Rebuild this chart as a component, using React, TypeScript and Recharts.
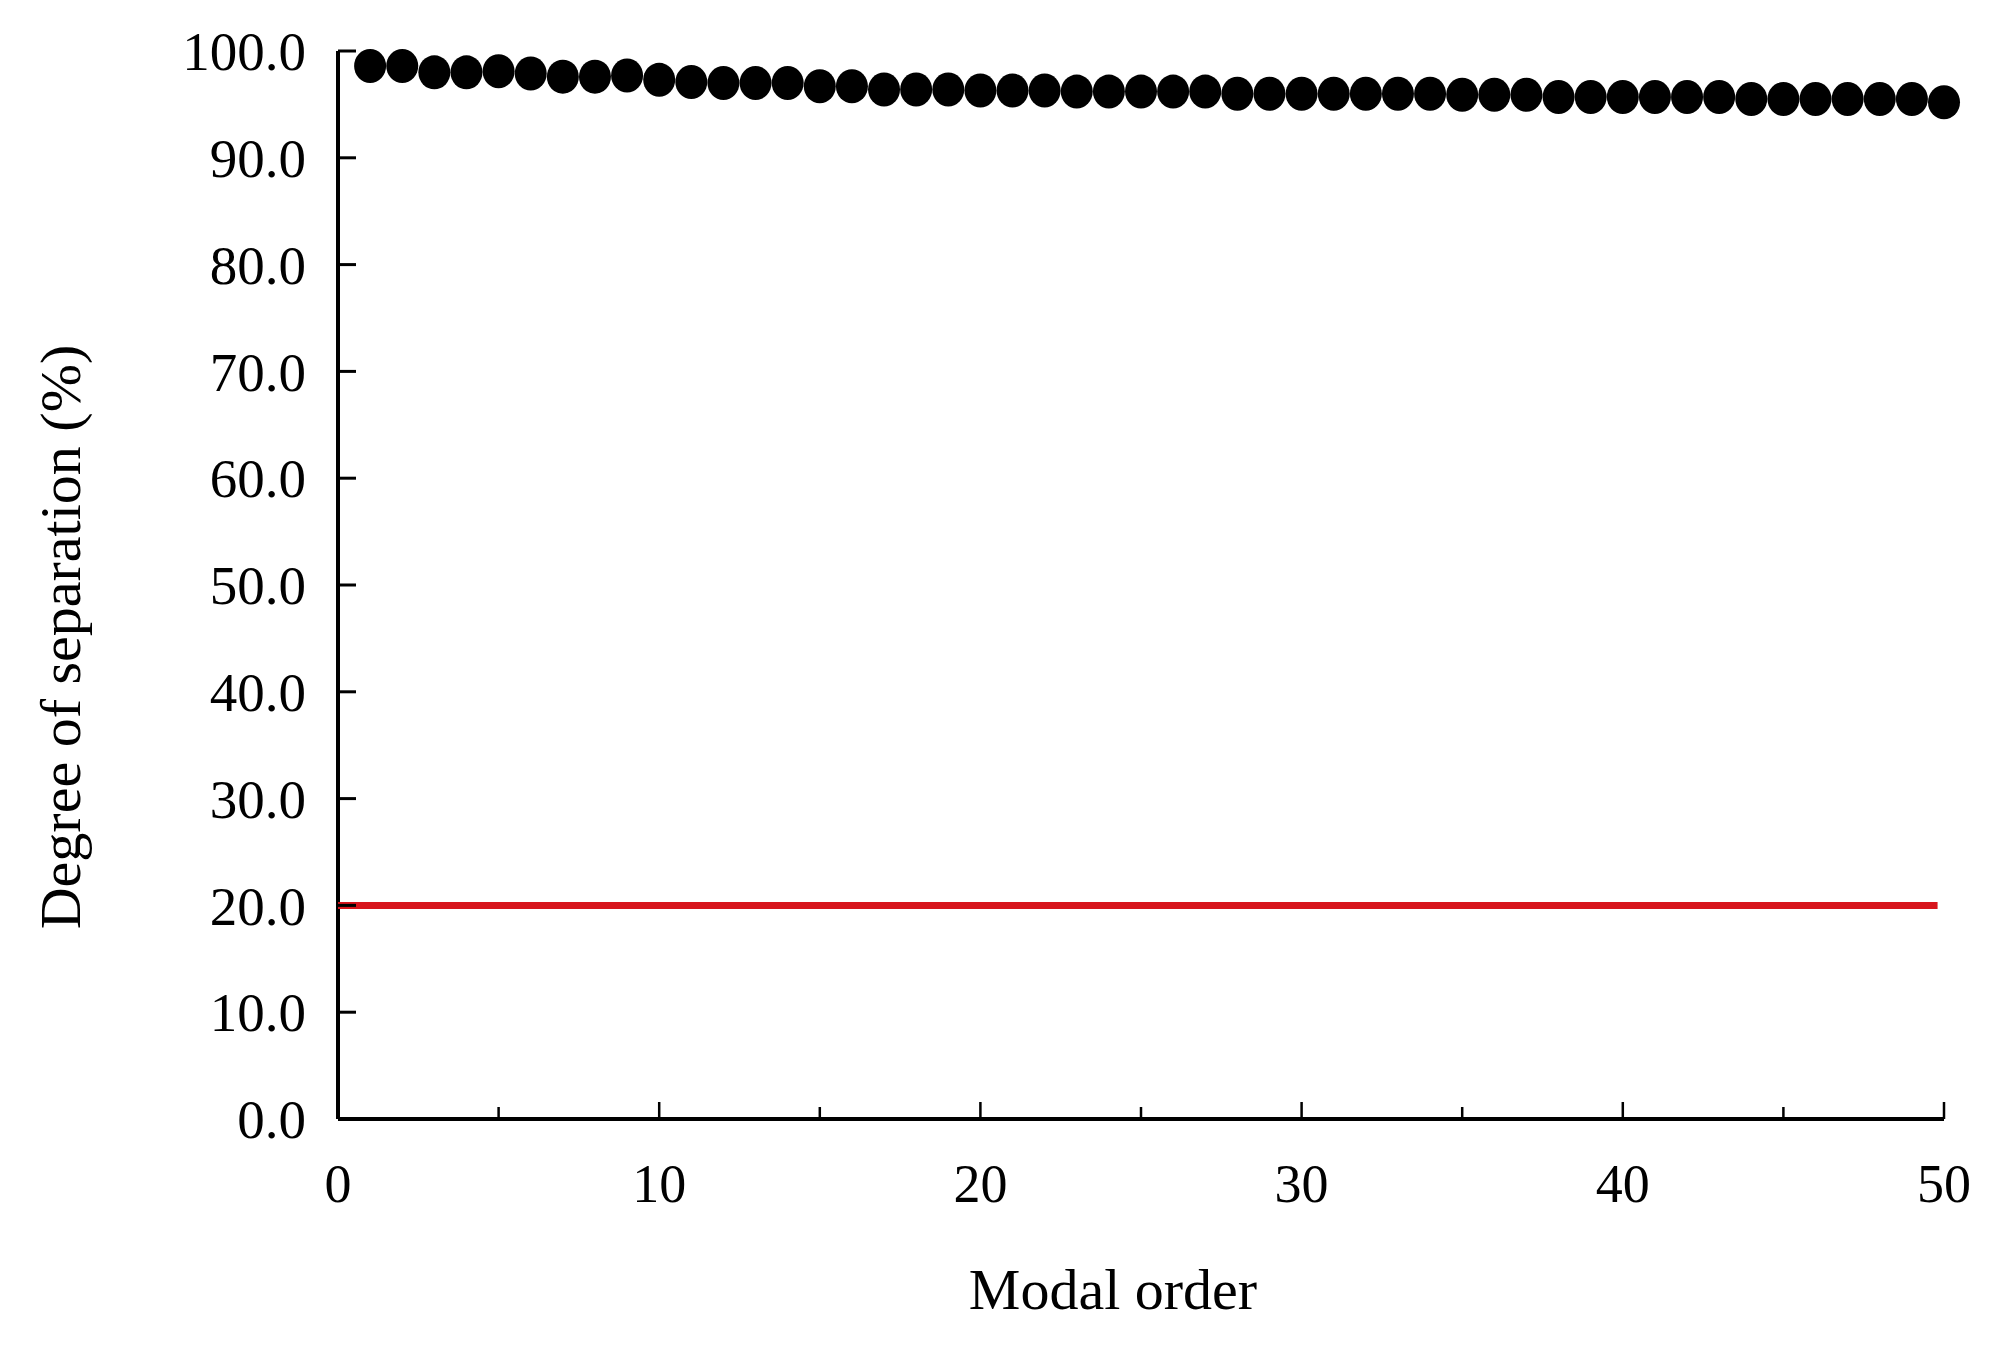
import { ScatterChart, Scatter, XAxis, YAxis } from 'recharts'

const modalOrder = [
  1, 2, 3, 4, 5, 6, 7, 8, 9, 10,
  11, 12, 13, 14, 15, 16, 17, 18, 19, 20,
  21, 22, 23, 24, 25, 26, 27, 28, 29, 30,
  31, 32, 33, 34, 35, 36, 37, 38, 39, 40,
  41, 42, 43, 44, 45, 46, 47, 48, 49, 50
]

const separation = [
  98.6, 98.6, 98.0, 98.0, 98.1, 97.9, 97.6, 97.6, 97.7, 97.3,
  97.1, 97.0, 97.0, 97.0, 96.7, 96.7, 96.4, 96.4, 96.4, 96.3,
  96.3, 96.3, 96.2, 96.2, 96.2, 96.2, 96.2, 96.0, 96.0, 96.0,
  96.0, 96.0, 96.0, 96.0, 95.9, 95.9, 95.9, 95.7, 95.7, 95.7,
  95.7, 95.7, 95.7, 95.5, 95.5, 95.5, 95.5, 95.5, 95.5, 95.2
]

const thresholdX = [0, 49.8]
const thresholdY = [20, 20]

const xTicks = [0, 5, 10, 15, 20, 25, 30, 35, 40, 45, 50]
const yTicks = [0, 10, 20, 30, 40, 50, 60, 70, 80, 90, 100]

const points = modalOrder.map((m, i) => ({ x: m, y: separation[i] }))
const threshold = thresholdX.map((x, i) => ({ x, y: thresholdY[i] }))

const FONT = '"Liberation Serif", "Times New Roman", serif'

const XTick = (props: any) => {
  const { x, y, payload } = props
  const major = payload.value % 10 === 0
  return (
    <g>
      <line x1={x} x2={x} y1={y} y2={y - (major ? 17 : 12)} stroke='#000' strokeWidth={2.5} />
      {major && (
        <text x={x} y={y + 83} textAnchor='middle' fontFamily={FONT} fontSize={54} fill='#000'>
          {payload.value}
        </text>
      )}
    </g>
  )
}

const YTick = (props: any) => {
  const { x, y, payload } = props
  return (
    <g>
      <line x1={x} x2={x + 18} y1={y} y2={y} stroke='#000' strokeWidth={3} />
      <text x={x - 32} y={y} dy='0.35em' textAnchor='end' fontFamily={FONT} fontSize={55} fill='#000'>
        {payload.value.toFixed(1)}
      </text>
    </g>
  )
}

const Dot = (props: any) => <ellipse cx={props.cx} cy={props.cy} rx={16} ry={17} fill='#000' />

export default function App() {
  return (
    <div style={{ position: 'absolute', left: 0, top: 0, background: '#fff' }}>
      <ScatterChart width={1999} height={1345} margin={{ top: 51, right: 55, left: 0, bottom: 0 }}>
        <XAxis
          type='number'
          dataKey='x'
          domain={[0, 50]}
          ticks={xTicks}
          interval={0}
          height={226}
          tickSize={0}
          tickMargin={0}
          tickLine={false}
          axisLine={{ stroke: '#000', strokeWidth: 4 }}
          tick={<XTick />}
          label={{
            content: ({ viewBox }: any) => (
              <text x={viewBox.x + viewBox.width / 2 - 28} y={viewBox.y + 190} textAnchor='middle' fontFamily={FONT} fontSize={58} fill='#000'>
                Modal order
              </text>
            )
          }}
        />
        <YAxis
          type='number'
          dataKey='y'
          domain={[0, 100]}
          ticks={yTicks}
          interval={0}
          width={338}
          tickSize={0}
          tickMargin={0}
          tickLine={false}
          axisLine={{ stroke: '#000', strokeWidth: 4 }}
          tick={<YTick />}
          label={{
            content: ({ viewBox }: any) => {
              const cx = 80
              const cy = viewBox.y + viewBox.height / 2 + 52
              return (
                <text x={cx} y={cy} transform={`rotate(-90 ${cx} ${cy})`} textAnchor='middle' fontFamily={FONT} fontSize={58} fill='#000'>
                  Degree of separation (%)
                </text>
              )
            }
          }}
        />
        <Scatter
          data={threshold}
          line={{ stroke: '#d7151c', strokeWidth: 7 }}
          shape={() => <g />}
          isAnimationActive={false}
        />
        <Scatter data={points} shape={<Dot />} isAnimationActive={false} />
      </ScatterChart>
    </div>
  )
}
